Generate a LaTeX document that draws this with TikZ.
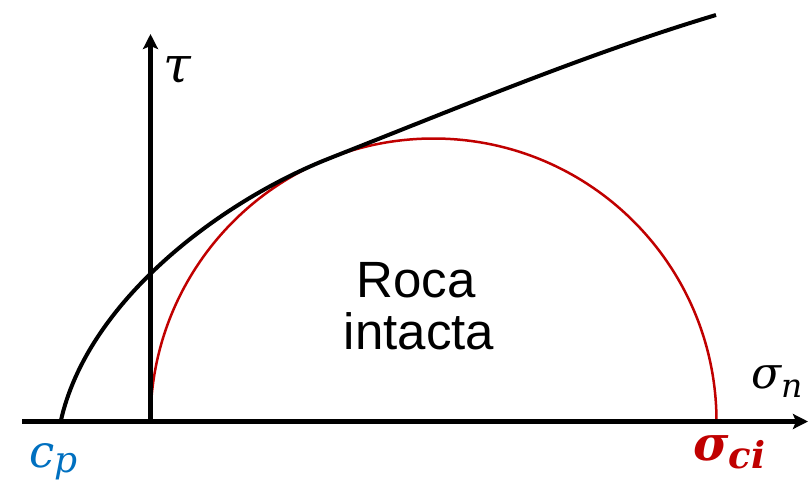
\documentclass[tikz,border=0pt]{standalone}
\usepackage{fontspec}
\setsansfont{Liberation Sans}
\newfontfamily\dvserif{DejaVu Serif}
\usetikzlibrary{arrows.meta}
\definecolor{cpblue}{RGB}{0,112,192}
\definecolor{sred}{RGB}{192,0,0}
\newcommand{\fsz}[1]{\fontsize{#1}{#1}\selectfont}
\tikzset{
  axisline/.style={line width=4.5pt, -{Stealth[length=15pt,width=15pt,inset=3pt]}},
  envelope/.style={line width=4pt, black},
  mohr/.style={line width=2.5pt, sred},
  mathlbl/.style={inner sep=0pt, font=\dvserif\itshape},
  rocklbl/.style={inner sep=0pt, font=\sffamily\fontsize{51}{52}\selectfont}
}
\begin{document}
\begin{tikzpicture}[x=1pt,y=-1pt]
\useasboundingbox (0,0) rectangle (809,485);
% key points
\coordinate (xstart) at (22,421.5);
\coordinate (xend) at (808,421.5);
\coordinate (O) at (150.5,421.5);
\coordinate (yend) at (150.5,34);
\coordinate (cp) at (60.7,421.5);
\coordinate (T) at (330,158.1);
\coordinate (E) at (716,15);
\coordinate (C) at (433.6,421.5);
% Mohr circle
\draw[mohr] (O) arc[start angle=180, end angle=360, radius=283];
% failure envelope
\draw[envelope] (cp) .. controls (87.1,301.5) and (220,201.4) .. (T)
  .. controls (458.7,107.5) and (587.3,53.6) .. (E);
% axes
\draw[axisline] (xstart) -- (xend);
\draw[axisline] (O) -- (yend);
% labels
\node[mathlbl, anchor=base west] (tau) at (163,82) {\fsz{50}τ};
\node[mathlbl, anchor=base west] (sn) at (751,388) {\fsz{44}σ\raisebox{-9pt}{\fsz{33}n}};
\node[mathlbl, anchor=base west, text=cpblue] (cpl) at (29,467) {\fsz{45}c\raisebox{-5pt}{\fsz{36}p}};
\node[mathlbl, anchor=base west, text=sred, font=\dvserif\bfseries\itshape] (sci) at (693,460) {\fsz{48}σ\raisebox{-8pt}{\fsz{37}ci}};
\node[rocklbl, anchor=base] (roca) at (416,297) {Roca};
\node[rocklbl, anchor=base] (intacta) at (419,349) {intacta};
\end{tikzpicture}
\end{document}
